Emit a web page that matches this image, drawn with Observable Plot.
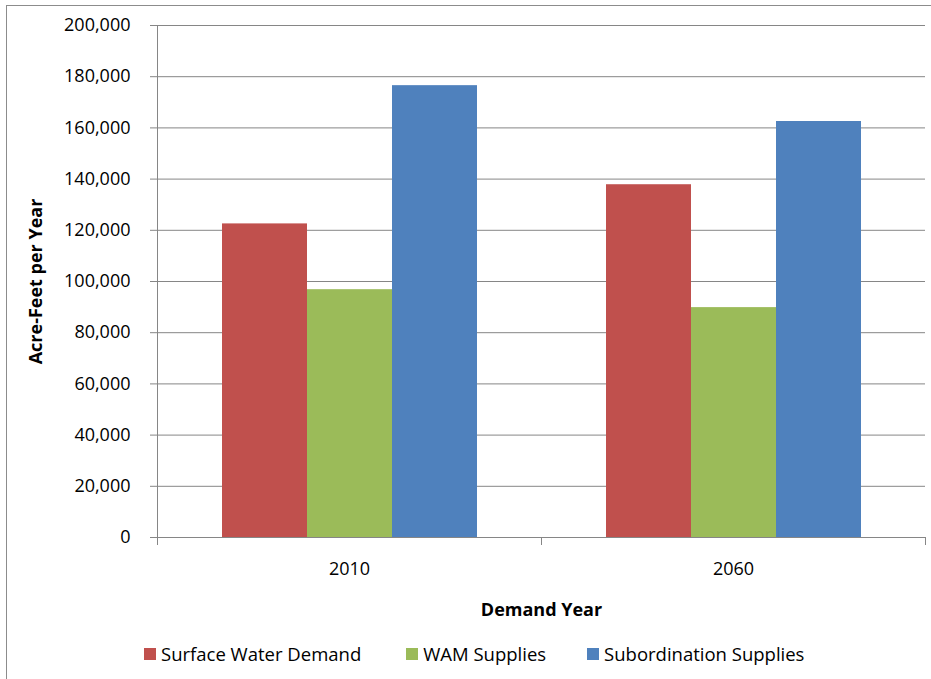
<!DOCTYPE html>
<html>
<head>
<meta charset="utf-8">
<script src="https://cdn.jsdelivr.net/npm/d3@7"></script>
<script src="https://cdn.jsdelivr.net/npm/@observablehq/plot@0.6"></script>
<style>
  html, body { margin: 0; padding: 0; background: #fff; overflow: hidden; }
  #wrap { position: relative; width: 931px; height: 679px; overflow: hidden; font-family: "Open Sans", sans-serif; }
  #border { position: absolute; left: 6px; top: 5px; width: 960px; height: 720px; border: 1px solid #8c8c8c; box-sizing: border-box; }
  #chart { position: absolute; left: 0; top: 0; }
  #legend { position: absolute; left: 144px; top: 641px; display: flex; font-size: 18.5px; color: #000; white-space: nowrap; }
  .item { display: flex; align-items: center; }
  .sw { width: 12px; height: 12px; margin-right: 5px; }
</style>
</head>
<body>
<div id="wrap">
  <div id="border"></div>
  <div id="chart"></div>
  <div id="legend"></div>
</div>
<script>
const years = ["2010", "2060"];
const series = ["Surface Water Demand", "WAM Supplies", "Subordination Supplies"];
const colors = ["#C0504D", "#9BBB59", "#4F81BD"];
const surfaceWaterDemand = [122500, 137800];
const wamSupplies = [96800, 89800];
const subordinationSupplies = [176500, 162500];
const yTicks = [0, 20000, 40000, 60000, 80000, 100000, 120000, 140000, 160000, 180000, 200000];

const valuesBySeries = [surfaceWaterDemand, wamSupplies, subordinationSupplies];
const table = [];
years.forEach((yr, i) => series.forEach((s, j) => table.push({year: yr, series: s, value: valuesBySeries[j][i]})));

const axisColor = "#868686";
const plot = Plot.plot({
  width: 931,
  height: 630,
  marginLeft: 157,
  marginRight: 6,
  marginTop: 25,
  marginBottom: 93,
  style: {fontFamily: "Open Sans, sans-serif", fontSize: "18px", color: "#000", background: "transparent", overflow: "visible"},
  fx: {domain: years, padding: 0},
  x: {domain: series, paddingInner: 0, paddingOuter: 0.75},
  y: {domain: [0, 200000]},
  color: {domain: series, range: colors},
  marks: [
    Plot.gridY(yTicks, {stroke: axisColor, strokeOpacity: 1, strokeWidth: 1}),
    Plot.barY(table, {fx: "year", x: "series", y: "value", fill: "series", inset: 0}),
    Plot.frame({anchor: "left", facetAnchor: "left", stroke: axisColor, insetBottom: -7}),
    Plot.frame({anchor: "bottom", stroke: axisColor}),
    Plot.frame({anchor: "left", stroke: axisColor, insetTop: 512, insetBottom: -7}),
    Plot.frame({anchor: "right", stroke: axisColor, insetTop: 512, insetBottom: -7}),
    Plot.axisY(yTicks, {
      anchor: "left",
      tickSize: 7,
      tickPadding: 20,
      stroke: axisColor,
      tickFormat: d3.format(","),
      fontSize: 18,
      label: "Acre-Feet per Year",
      labelAnchor: "center",
      labelArrow: "none",
      labelOffset: 128
    }),
    Plot.axisX({ticks: [], tickSize: 0, label: null}),
    Plot.axisFx({
      anchor: "bottom",
      tickSize: 0,
      tickPadding: 25,
      fontSize: 18,
      label: "Demand Year",
      labelAnchor: "center",
      labelArrow: "none",
      labelOffset: 78
    })
  ]
});
document.getElementById("chart").appendChild(plot);

plot.querySelectorAll("g[aria-label='y-axis label'] text, g[aria-label='fx-axis label'] text").forEach(t => {
  t.setAttribute("font-weight", "bold");
  t.style.fontWeight = "bold";
});

const legend = document.getElementById("legend");
const gaps = [0, 45, 41];
series.forEach((s, i) => {
  const it = document.createElement("div");
  it.className = "item";
  it.style.marginLeft = gaps[i] + "px";
  const sw = document.createElement("span");
  sw.className = "sw";
  sw.style.background = colors[i];
  const tx = document.createElement("span");
  tx.textContent = s;
  it.appendChild(sw);
  it.appendChild(tx);
  legend.appendChild(it);
});
</script>
</body>
</html>
